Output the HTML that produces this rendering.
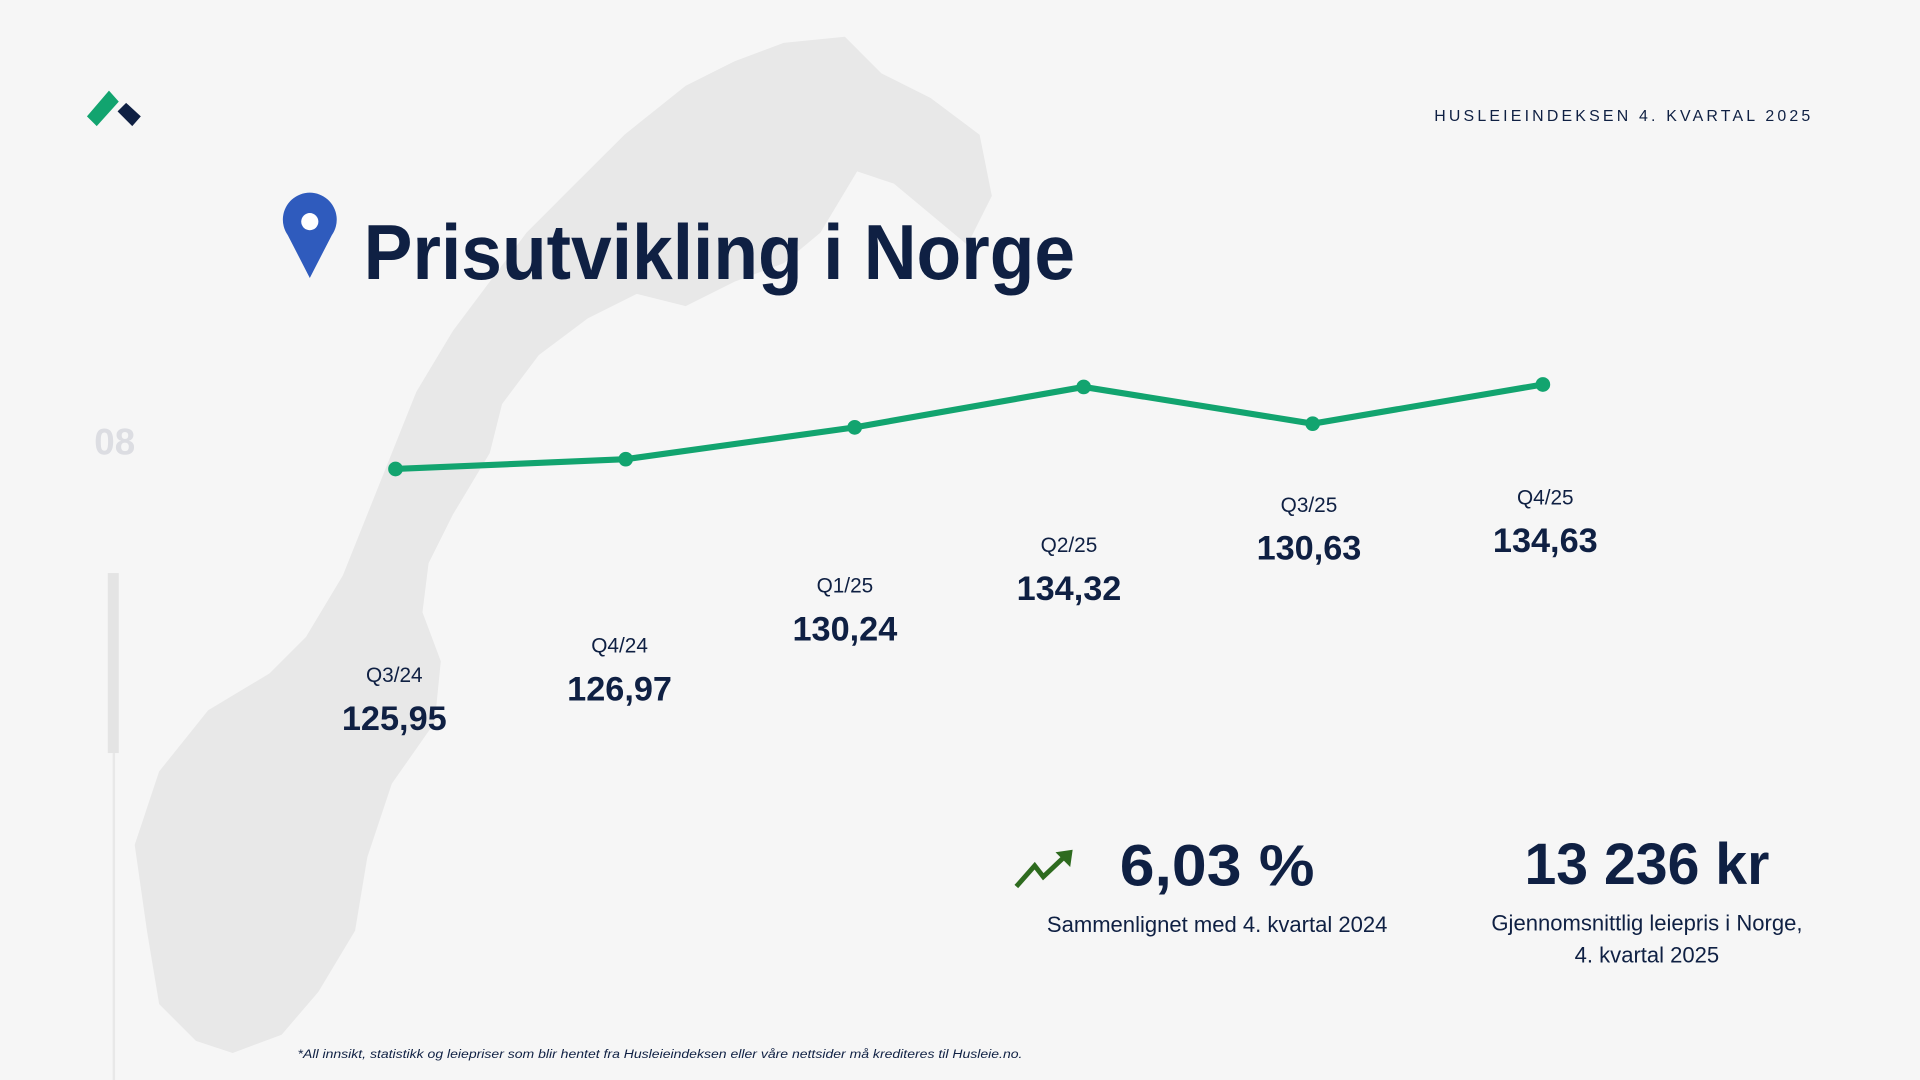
<!DOCTYPE html>
<html><head><meta charset="utf-8"><style>
html,body{margin:0;padding:0;background:#f6f6f6;}
svg{display:block;}
text{font-family:"Liberation Sans",sans-serif;}
</style></head><body>
<svg width="1920" height="1080" viewBox="0 0 1568 882" xmlns="http://www.w3.org/2000/svg">
<rect width="1568" height="882" fill="#f6f6f6"/>
<polygon fill="#e8e8e8" points="640,35 690,30 720,60 760,80 800,110 810,160 790,200 760,175 730,150 700,140 670,190 640,215 600,230 560,250 520,240 480,260 440,290 410,330 400,370 370,420 350,460 345,500 360,540 355,590 320,640 300,700 290,760 260,810 230,845 190,860 160,850 130,820 120,760 110,690 130,630 170,580 220,550 250,520 280,470 300,420 320,370 340,320 370,270 400,230 430,190 470,150 510,110 560,70 600,50"/>
<polygon fill="#12a46f" points="71,95 89,74 97,83 79,103"/>
<polygon fill="#0f2043" points="96,91 103,84 115,95 108,103"/>
<text x="1481" y="99" text-anchor="end" font-size="13" letter-spacing="2.6" fill="#0f2043">HUSLEIEINDEKSEN 4. KVARTAL 2025</text>
<path d="M253,227 L235,192 A22,22 0 1 1 271,192 Z" fill="#2f5bbd"/>
<circle cx="253" cy="181" r="7" fill="#fff"/>
<text x="297" y="228" font-size="64" font-weight="bold" fill="#0f2043" textLength="581" lengthAdjust="spacingAndGlyphs">Prisutvikling i Norge</text>
<text x="77" y="371" font-size="30" font-weight="bold" fill="#dcdde2">08</text>
<rect x="88" y="468" width="9" height="147" fill="#e4e4e4"/>
<rect x="92" y="615" width="2" height="267" fill="#e8e8e8"/>
<polyline points="323,383 511,375 698,349 885,316 1072,346 1260,314" fill="none" stroke="#12a46f" stroke-width="5" stroke-linejoin="round"/>
<g fill="#12a46f">
<circle cx="323" cy="383" r="6"/><circle cx="511" cy="375" r="6"/><circle cx="698" cy="349" r="6"/>
<circle cx="885" cy="316" r="6"/><circle cx="1072" cy="346" r="6"/><circle cx="1260" cy="314" r="6"/>
</g>
<g fill="#0f2043" text-anchor="middle">
<text x="322" y="557" font-size="17">Q3/24</text><text x="322" y="596" font-size="28" font-weight="bold">125,95</text>
<text x="506" y="533" font-size="17">Q4/24</text><text x="506" y="572" font-size="28" font-weight="bold">126,97</text>
<text x="690" y="484" font-size="17">Q1/25</text><text x="690" y="523" font-size="28" font-weight="bold">130,24</text>
<text x="873" y="451" font-size="17">Q2/25</text><text x="873" y="490" font-size="28" font-weight="bold">134,32</text>
<text x="1069" y="418" font-size="17">Q3/25</text><text x="1069" y="457" font-size="28" font-weight="bold">130,63</text>
<text x="1262" y="412" font-size="17">Q4/25</text><text x="1262" y="451" font-size="28" font-weight="bold">134,63</text>
<text x="994" y="723" font-size="48" font-weight="bold" textLength="159" lengthAdjust="spacingAndGlyphs">6,03 %</text>
<text x="1345" y="722" font-size="48" font-weight="bold" textLength="200" lengthAdjust="spacingAndGlyphs">13 236 kr</text>
<text x="994" y="761" font-size="18">Sammenlignet med 4. kvartal 2024</text>
<text x="1345" y="760" font-size="18">Gjennomsnittlig leiepris i Norge,</text>
<text x="1345" y="786" font-size="18">4. kvartal 2025</text>
</g>
<polyline points="830,724 845,707 852,716 870,699" fill="none" stroke="#2e6b1f" stroke-width="4"/>
<polygon points="862,696 876,694 874,708" fill="#2e6b1f"/>
<text x="243" y="864" font-size="10" font-style="italic" fill="#0f2043" textLength="592" lengthAdjust="spacingAndGlyphs">*All innsikt, statistikk og leiepriser som blir hentet fra Husleieindeksen eller våre nettsider må krediteres til Husleie.no.</text>
</svg>
</body></html>
